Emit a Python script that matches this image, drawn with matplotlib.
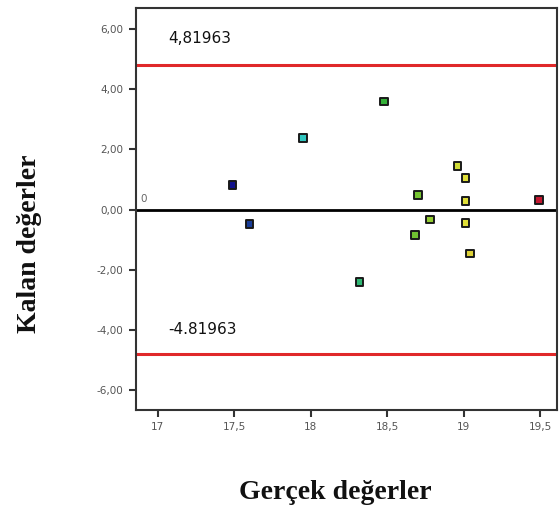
import matplotlib
matplotlib.use("Agg")
import matplotlib.pyplot as plt
from matplotlib.colors import LinearSegmentedColormap, Normalize
from matplotlib.ticker import FuncFormatter

# Data
actual = [17.49, 17.60, 17.95, 18.32, 18.48, 18.68, 18.70, 18.78, 18.96, 19.01, 19.01, 19.01, 19.04, 19.49]
residual = [0.82, -0.48, 2.39, -2.42, 3.60, -0.84, 0.48, -0.33, 1.44, 1.04, 0.28, -0.44, -1.46, 0.31]
upper_limit = 4.81963
lower_limit = -4.81963
x_ticks = [17, 17.5, 18, 18.5, 19, 19.5]
y_ticks = [-6, -4, -2, 0, 2, 4, 6]

cmap = LinearSegmentedColormap.from_list(
    "spss", [(0.0, "#12128c"), (0.23, "#30c8c0"), (0.41, "#2fb878"),
             (0.50, "#34b034"), (0.62, "#80c830"), (0.76, "#e0e038"),
             (1.0, "#c41830")])

fig = plt.figure(figsize=(5.6, 5.15), dpi=100)
ax = fig.add_axes([0.243, 0.204, 0.752, 0.78])

ax.axhline(upper_limit, color="#e0282a", lw=2.2, zorder=2)
ax.axhline(lower_limit, color="#e0282a", lw=2.2, zorder=2)
ax.axhline(0, color="black", lw=2.0, zorder=2)

ax.scatter(actual, residual, c=actual, cmap=cmap, norm=Normalize(17.49, 19.49),
           marker="s", s=30, edgecolors="#1a1a1a", linewidths=1.4, zorder=3)

ax.set_xlim(16.86, 19.61)
ax.set_ylim(-6.67, 6.7)
ax.set_xticks(x_ticks)
ax.set_yticks(y_ticks)
ax.xaxis.set_major_formatter(FuncFormatter(lambda v, p: f"{v:g}".replace(".", ",")))
ax.yaxis.set_major_formatter(FuncFormatter(lambda v, p: f"{v:.2f}".replace(".", ",")))
ax.tick_params(axis="both", length=5, width=1.5, color="#333333",
               labelsize=7.5, labelcolor="#555555", direction="out", pad=4)
for s in ax.spines.values():
    s.set_color("#333333")
    s.set_linewidth(1.5)

ax.text(17.07, 5.7, "4,81963", fontsize=11, color="#111111", va="center", ha="left")
ax.text(17.07, -4.0, "-4.81963", fontsize=11, color="#111111", va="center", ha="left")
ax.text(16.89, 0.35, "0", fontsize=7.5, color="#666666", va="center", ha="left")

fig.text(0.052, 0.526, "Kalan değerler", rotation=90, ha="center", va="center",
         fontsize=20, fontweight="bold", family="Liberation Serif", color="#111111")
fig.text(0.598, 0.044, "Gerçek değerler", ha="center", va="center",
         fontsize=20, fontweight="bold", family="Liberation Serif", color="#111111")

fig.savefig("out.png", dpi=100)
